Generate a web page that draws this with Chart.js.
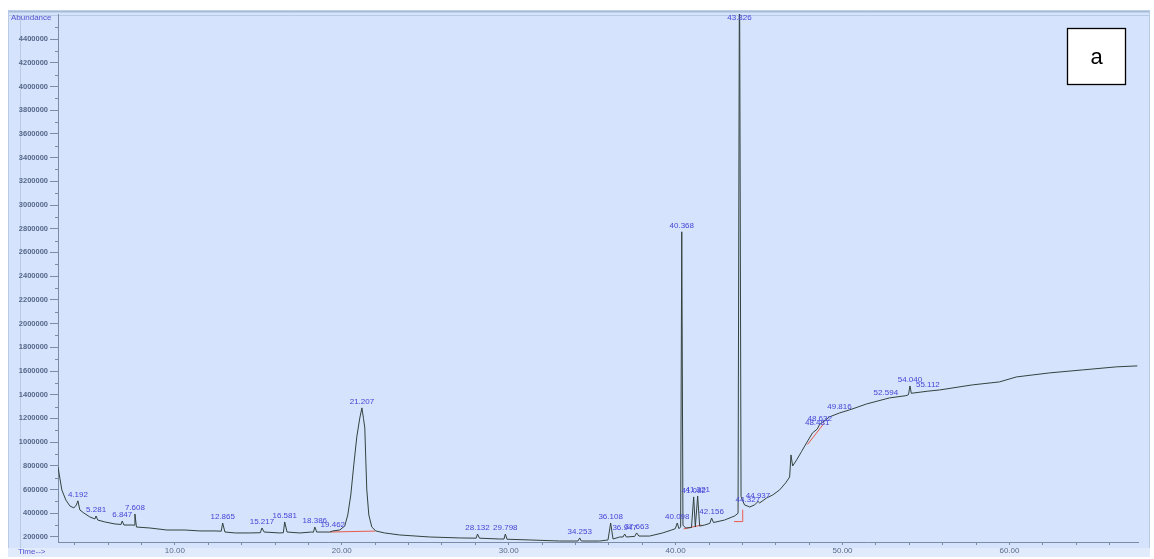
<!DOCTYPE html>
<html>
<head>
<meta charset="utf-8">
<script src="https://cdn.jsdelivr.net/npm/chart.js@4/dist/chart.umd.min.js"></script>
<style>
  html, body { margin: 0; padding: 0; background: #ffffff; }
  canvas { display: block; }
</style>
</head>
<body>
<canvas id="tic" width="1154" height="559"></canvas>
<script>
// Total ion chromatogram: retention time (min) vs abundance
const retentionTimes = [
  3.00, 3.23, 3.47, 3.71, 3.95, 4.10, 4.192, 4.31, 4.55, 4.91, 5.21, 5.281, 5.38, 5.81, 6.41, 6.78, 6.847, 6.95,
  7.43, 7.56, 7.608, 7.70, 8.50, 9.52, 10.60, 11.50, 12.40, 12.78, 12.865, 13.00, 13.62, 14.49, 15.12, 15.217,
  15.35, 16.29, 16.50, 16.581, 16.72, 17.49, 18.20, 18.30, 18.386, 18.50, 19.28, 19.462, 19.88, 20.18, 20.36,
  20.54, 20.72, 20.90, 21.08, 21.207, 21.30, 21.38, 21.44, 21.50, 21.62, 21.80, 22.04, 22.57, 23.47, 25.27,
  27.07, 28.05, 28.132, 28.25, 29.46, 29.72, 29.798, 29.90, 31.26, 33.05, 34.15, 34.253, 34.35, 35.45, 35.95,
  36.108, 36.25, 36.65, 36.85, 36.947, 37.05, 37.55, 37.663, 37.80, 38.44, 39.22, 39.76, 39.98, 40.098, 40.20,
  40.30, 40.368, 40.44, 40.60, 40.95, 41.082, 41.18, 41.321, 41.44, 41.74, 42.05, 42.156, 42.27, 42.93, 43.53,
  43.74, 43.826, 43.92, 44.13, 44.327, 44.43, 44.73, 44.937, 45.03, 45.45, 45.81, 46.23, 46.59, 46.83, 46.912,
  47.01, 47.25, 47.54, 47.84, 48.20, 48.481, 48.632, 49.22, 49.816, 50.42, 51.44, 52.594, 52.81, 53.80, 53.95,
  54.040, 54.12, 55.112, 55.81, 57.78, 59.40, 60.42, 62.40, 64.37, 66.41, 67.66
];
const abundance = [
  790000, 597000, 512000, 462000, 445000, 470000, 505000, 428000, 402000, 369000, 352000, 377000, 343000, 327000, 310000, 306000, 335000, 301000,
  301000, 300000, 394000, 284000, 276000, 259000, 259000, 251000, 251000, 249000, 318000, 242000, 234000, 234000, 236000, 276000,
  242000, 234000, 236000, 327000, 242000, 234000, 242000, 240000, 284000, 242000, 242000, 251000, 259000, 293000, 386000,
  554000, 808000, 1044000, 1204000, 1289000, 1200000, 1120000, 850000, 597000, 386000, 284000, 251000, 234000, 217000, 200000,
  192000, 190000, 225000, 190000, 183000, 183000, 225000, 181000, 175000, 166000, 166000, 192000, 166000, 166000, 175000,
  318000, 183000, 200000, 200000, 225000, 200000, 205000, 234000, 208000, 208000, 234000, 259000, 270000, 318000, 270000,
  285000, 2774000, 300000, 276000, 280000, 538000, 284000, 546000, 292000, 301000, 315000, 360000, 322000, 343000, 377000,
  400000, 5200000, 540000, 470000, 460000, 453000, 470000, 500000, 487000, 529000, 554000, 597000, 656000, 706000, 892000,
  799000, 850000, 920000, 993000, 1078000, 1110000, 1150000, 1213000, 1246000, 1272000, 1322000, 1365000, 1373000, 1392000, 1400000,
  1474000, 1412000, 1430000, 1440000, 1483000, 1508000, 1550000, 1584000, 1609000, 1635000, 1643000
];

// Integrated peaks: retention time and printed label
const peakTimes = [
  4.192, 5.281, 6.847, 7.608, 12.865, 15.217, 16.581, 18.386, 19.462, 21.207, 28.132, 29.798, 34.253, 36.108,
  36.947, 37.663, 40.098, 40.368, 41.082, 41.321, 42.156, 43.826, 44.327, 44.937, 48.481, 48.632, 49.816,
  52.594, 54.040, 55.112
];
const peakLabels = [
  '4.192', '5.281', '6.847', '7.608', '12.865', '15.217', '16.581', '18.386', '19.462', '21.207', '28.132', '29.798', '34.253', '36.108',
  '36.947', '37.663', '40.098', '40.368', '41.082', '41.321', '42.156', '43.826', '44.327', '44.937', '48.481', '48.632', '49.816',
  '52.594', '54.040', '55.112'
];

// Integration baselines (null separates segments)
const baselineTimes = [19.30, 22.00, null, 40.48, 41.56, null, 43.50, 44.02, 44.02, null, 47.90, 48.90];
const baselineValues = [242000, 250000, null, 268000, 301000, null, 330000, 330000, 430000, null, 980000, 1160000];

// Axis ticks
const timeTicks = [4, 6, 8, 10, 12, 14, 16, 18, 20, 22, 24, 26, 28, 30, 32, 34, 36, 38, 40, 42, 44, 46, 48, 50, 52, 54, 56, 58, 60, 62, 64, 66];
const timeTickLabels = ['', '', '', '10.00', '', '', '', '', '20.00', '', '', '', '', '30.00', '', '', '', '', '40.00', '', '', '', '', '50.00', '', '', '', '', '60.00', '', '', ''];
const abundanceTicks = [200000, 400000, 600000, 800000, 1000000, 1200000, 1400000, 1600000, 1800000, 2000000, 2200000,
  2400000, 2600000, 2800000, 3000000, 3200000, 3400000, 3600000, 3800000, 4000000, 4200000, 4400000];

const tracePoints = retentionTimes.map((t, i) => ({ x: t, y: abundance[i] }));
const baselinePoints = baselineTimes.map((t, i) => (t === null ? { x: null, y: null } : { x: t, y: baselineValues[i] }));

const AXIS_COLOR = '#7a8ca6';
const LABEL_COLOR = '#56688a';
const PEAK_COLOR = '#4646d6';
const FONT = '"Liberation Sans", Arial, sans-serif';

// Window frame, panel fill and corner captions
const framePlugin = {
  id: 'frame',
  beforeDraw(chart) {
    const ctx = chart.ctx;
    ctx.save();
    ctx.fillStyle = '#ffffff';
    ctx.fillRect(0, 0, chart.width, chart.height);
    ctx.fillStyle = '#d5e3fc';
    ctx.fillRect(8, 10, 1142, 547);
    ctx.strokeStyle = '#a8bbd6';
    ctx.lineWidth = 2;
    ctx.beginPath();
    ctx.moveTo(8, 11.5); ctx.lineTo(1150, 11.5);
    ctx.stroke();
    ctx.lineWidth = 1;
    ctx.strokeStyle = '#b9cbe4';
    ctx.beginPath();
    ctx.moveTo(8, 15.5); ctx.lineTo(1150, 15.5);
    ctx.moveTo(8.5, 10); ctx.lineTo(8.5, 557);
    ctx.moveTo(20.5, 16); ctx.lineTo(20.5, 557);
    ctx.moveTo(1149.5, 10); ctx.lineTo(1149.5, 557);
    ctx.stroke();
    ctx.fillStyle = '#e1ebfc';
    ctx.fillRect(8, 548, 1142, 9);
    ctx.restore();
  },
  afterDraw(chart) {
    const ctx = chart.ctx;
    const ys = chart.scales.y;
    ctx.save();
    // minor abundance ticks between the labelled ones
    ctx.strokeStyle = AXIS_COLOR;
    ctx.lineWidth = 1;
    ctx.beginPath();
    for (let i = 0; i < abundanceTicks.length; i++) {
      const v = abundanceTicks[i] + 100000;
      const py = Math.round(ys.getPixelForValue(v)) + 0.5;
      if (py < chart.chartArea.top) continue;
      ctx.moveTo(ys.right - 3, py); ctx.lineTo(ys.right, py);
    }
    ctx.stroke();
    ctx.fillStyle = '#5353d0';
    ctx.font = '8px ' + FONT;
    ctx.textBaseline = 'middle';
    ctx.textAlign = 'left';
    ctx.fillText('Abundance', 11, 18);
    ctx.fillText('Time-->', 18, 552);
    // panel tag
    ctx.fillStyle = '#ffffff';
    ctx.fillRect(1067, 28, 59, 57);
    ctx.strokeStyle = '#000000';
    ctx.lineWidth = 1.3;
    ctx.strokeRect(1067.5, 28.5, 58, 56);
    ctx.fillStyle = '#000000';
    ctx.font = '22px ' + FONT;
    ctx.textAlign = 'center';
    ctx.textBaseline = 'middle';
    ctx.fillText('a', 1096.5, 58);
    ctx.restore();
  }
};

// Retention-time labels above each integrated peak
const peakLabelPlugin = {
  id: 'peakLabels',
  afterDatasetsDraw(chart) {
    const ctx = chart.ctx;
    const xs = chart.scales.x, ys = chart.scales.y;
    const area = chart.chartArea;
    ctx.save();
    ctx.fillStyle = PEAK_COLOR;
    ctx.font = '8px ' + FONT;
    ctx.textAlign = 'center';
    ctx.textBaseline = 'bottom';
    peakTimes.forEach((t, i) => {
      let k = 0, best = Infinity;
      retentionTimes.forEach((rt, j) => { const d = Math.abs(rt - t); if (d < best) { best = d; k = j; } });
      const px = xs.getPixelForValue(t);
      let py = ys.getPixelForValue(abundance[k]) - 2;
      if (py < area.top + 8) py = area.top + 8;
      ctx.fillText(peakLabels[i], px, py);
    });
    ctx.restore();
  }
};

new Chart(document.getElementById('tic'), {
  type: 'line',
  data: {
    datasets: [
      {
        data: tracePoints,
        borderColor: '#34433f',
        borderWidth: 1,
        pointRadius: 0,
        tension: 0
      },
      {
        data: baselinePoints,
        borderColor: '#ea5a4a',
        borderWidth: 1,
        pointRadius: 0,
        spanGaps: false,
        tension: 0
      }
    ]
  },
  options: {
    responsive: false,
    animation: false,
    devicePixelRatio: 1,
    events: [],
    layout: { padding: { left: 8, top: 14, right: 16, bottom: 0 } },
    plugins: { legend: { display: false }, tooltip: { enabled: false } },
    scales: {
      x: {
        type: 'linear',
        min: 3.0,
        max: 67.7,
        afterFit(s) { s.height = 17; },
        afterBuildTicks(s) { s.ticks = timeTicks.map(v => ({ value: v })); },
        border: { display: true, color: AXIS_COLOR, width: 1 },
        grid: { drawOnChartArea: false, tickLength: 3, color: AXIS_COLOR },
        ticks: {
          autoSkip: false,
          maxRotation: 0,
          padding: 1,
          color: LABEL_COLOR,
          font: { size: 8, family: FONT },
          callback(value, index) { return timeTickLabels[index]; }
        }
      },
      y: {
        type: 'linear',
        min: 157800,
        max: 4611000,
        afterFit(s) { s.width = 50; },
        afterBuildTicks(s) { s.ticks = abundanceTicks.map(v => ({ value: v })); },
        border: { display: true, color: AXIS_COLOR, width: 1 },
        grid: { drawOnChartArea: false, tickLength: 8, color: AXIS_COLOR },
        ticks: {
          padding: 2,
          color: LABEL_COLOR,
          font: { size: 7.5, family: FONT, weight: 'bold' },
          callback(value) { return String(value); }
        }
      }
    }
  },
  plugins: [framePlugin, peakLabelPlugin]
});
</script>
</body>
</html>
